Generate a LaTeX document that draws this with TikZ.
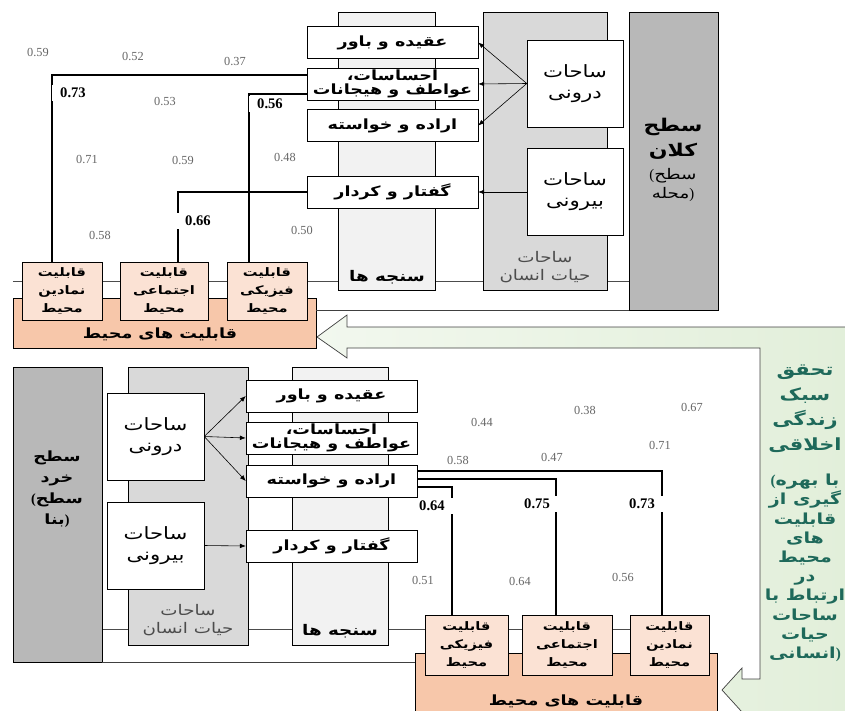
\documentclass[tikz,border=0pt]{standalone}
\usepackage{fontspec}
\setmainfont{Liberation Serif}
\newfontfamily\arabicfont[Script=Arabic,FakeStretch=1.25]{DejaVu Sans}
\TeXXeTstate=1
\newcommand{\fa}[1]{{\arabicfont\beginR #1\endR}}
\usetikzlibrary{arrows.meta,backgrounds}

\definecolor{darkcol}{gray}{0.72}
\definecolor{lightcol}{gray}{0.85}
\definecolor{palecol}{gray}{0.95}
\definecolor{capfill}{RGB}{251,226,212}
\definecolor{holdfill}{RGB}{247,199,170}
\definecolor{greenfill}{RGB}{226,239,218}
\definecolor{greentext}{RGB}{30,105,90}

\tikzset{
  measbox/.style={draw,fill=white,inner sep=0pt,minimum width=5.13cm,minimum height=0.96cm,
    align=center,font=\fontsize{12}{13}\selectfont\bfseries},
  sahatbox/.style={draw,fill=white,inner sep=0pt,minimum width=2.88cm,minimum height=2.61cm,
    align=center,font=\fontsize{14.5}{18}\selectfont},
  capbox/.style={draw,fill=capfill,inner sep=0pt,minimum height=1.74cm,
    align=center,font=\fontsize{10}{15}\selectfont\bfseries},
  capholder/.style={draw,fill=holdfill,inner sep=0pt},
  darkbar/.style={draw,fill=darkcol,inner sep=0pt},
  lightbar/.style={draw,fill=lightcol,inner sep=0pt},
  palebar/.style={draw,fill=palecol,inner sep=0pt},
  coltext/.style={align=center,text=black!70,font=\fontsize{12.5}{16}\selectfont},
  val/.style={text=black!60,font=\fontsize{10.5}{12}\selectfont},
  valb/.style={fill=white,inner xsep=7pt,inner ysep=3pt,font=\fontsize{12.5}{13}\selectfont\bfseries},
  link/.style={line width=1.4pt},
  arr/.style={-{Latex[length=5pt,width=4pt]},line width=0.5pt},
  spine/.style={line width=0.5pt,black!70},
  frame/.style={line width=0.6pt,black!75},
  greentxt/.style={align=center,text=greentext}
}

\begin{document}
\begin{tikzpicture}[x=0.03cm,y=-0.03cm]
  \useasboundingbox (0,0) rectangle (845,711);
  % green band with its two arrow heads
  \draw[frame,left color=greenfill!45!white,right color=greenfill]
    (317,337) -- (347,315) -- (347,327) -- (848,327) -- (848,714) -- (742,714)
    -- (742,712) -- (722,690) -- (742,668) -- (742,679) -- (760,679) -- (760,348)
    -- (347,348) -- (347,358) -- cycle;
  \node[greentxt,font=\fontsize{14.3}{21.3}\selectfont\bfseries] (goal1) at (805,409)
    {\fa{تحقق}\\\fa{سبک}\\\fa{زندگی}\\\fa{اخلاقی}};
  \node[greentxt,font=\fontsize{13}{16.4}\selectfont\bfseries] (goal2) at (805,568)
    {(\fa{با بهره}\\\fa{گیری از}\\\fa{قابلیت}\\\fa{های}\\\fa{محیط}\\\fa{در}\\\fa{ارتباط با}\\\fa{ساحات}\\\fa{حیات}\\\fa{انسانی})};

  % upper half: macro level
  \node[darkbar,minimum width=2.67cm,minimum height=8.94cm] (kalan) at (673.5,161) {};
  \node[lightbar,minimum width=3.72cm,minimum height=8.34cm] (hayat1) at (545,151) {};
  \node[palebar,minimum width=2.91cm,minimum height=8.34cm] (sanje1) at (386.5,151) {};
  \node[font=\fontsize{15}{21.3}\selectfont\bfseries,align=center] (kalantxt) at (673,139)
    {\fa{سطح}\\\fa{کلان}};
  \node[font=\fontsize{12.5}{15.5}\selectfont,align=center] (mahalletxt) at (673,185)
    {(\fa{سطح}\\\fa{محله})};
  \node[coltext] (hayat1txt) at (545,267) {\fa{ساحات}\\\fa{حیات انسان}};
  \node[coltext,text=black,font=\fontsize{12.5}{16}\selectfont\bfseries] (sanje1txt) at (387,277) {\fa{سنجه ها}};
  \node[sahatbox] (darooni1) at (575,83.5) {\fa{ساحات}\\\fa{درونی}};
  \node[sahatbox] (birooni1) at (575,192) {\fa{ساحات}\\\fa{بیرونی}};
  \node[measbox] (aghide1) at (392.5,42.5) {\fa{عقیده و باور}};
  \node[measbox,font=\fontsize{12}{12.5}\selectfont\bfseries] (ehsas1) at (392.5,84)
    {\fa{احساسات،}\\\fa{عواطف و هیجانات}};
  \node[measbox] (erade1) at (392.5,125.5) {\fa{اراده و خواسته}};
  \node[measbox] (goftar1) at (392.5,192) {\fa{گفتار و کردار}};
  \node[capholder,minimum width=9.09cm,minimum height=1.5cm] (mohit1) at (164.5,323) {};
  \node[font=\fontsize{12}{14}\selectfont\bfseries] (mohit1txt) at (160,334) {\fa{قابلیت های محیط}};
  \node[capbox,minimum width=2.4cm] (namadin1) at (62,291) {\fa{قابلیت}\\\fa{نمادین}\\\fa{محیط}};
  \node[capbox,minimum width=2.64cm] (ejtemai1) at (164,291) {\fa{قابلیت}\\\fa{اجتماعی}\\\fa{محیط}};
  \node[capbox,minimum width=2.4cm] (fiziki1) at (267,291) {\fa{قابلیت}\\\fa{فیزیکی}\\\fa{محیط}};

  \draw[arr] (darooni1.west) -- (aghide1.east);
  \draw[arr] (darooni1.west) -- (ehsas1.east);
  \draw[arr] (darooni1.west) -- (erade1.east);
  \draw[arr] (birooni1.west) -- (goftar1.east);
  \draw[link] (ehsas1.west |- 0,75) -| (namadin1.north -| 52,0);
  \draw[link] (ehsas1.west |- 0,94) -| (fiziki1.north -| 249,0);
  \draw[link] (goftar1.west) -| (ejtemai1.north -| 178,0);
  \draw[frame] (mohit1.east |- kalan.south) -- (kalan.south west);

  \node[val] (u1) at (38,53) {0.59};
  \node[val] (u2) at (133,57) {0.52};
  \node[val] (u3) at (235,62) {0.37};
  \node[valb] (u4) at (73,93) {0.73};
  \node[val] (u5) at (165,101) {0.53};
  \node[valb] (u6) at (270,104) {0.56};
  \node[val] (u7) at (87,159) {0.71};
  \node[val] (u8) at (183,160) {0.59};
  \node[val] (u9) at (285,157) {0.48};
  \node[valb] (u10) at (198,221) {0.66};
  \node[val] (u11) at (100,235) {0.58};
  \node[val] (u12) at (302,230) {0.50};

  % lower half: micro level
  \node[darkbar,minimum width=2.67cm,minimum height=8.85cm] (khord) at (57.5,514.5) {};
  \node[lightbar,minimum width=3.6cm,minimum height=8.34cm] (hayat2) at (188,506) {};
  \node[palebar,minimum width=2.88cm,minimum height=8.34cm] (sanje2) at (340,506) {};
  \node[font=\fontsize{12}{18}\selectfont\bfseries,align=center] (khordtxt) at (57,489)
    {\fa{سطح}\\\fa{خرد}\\(\fa{سطح}\\\fa{بنا})};
  \node[coltext] (hayat2txt) at (188,620) {\fa{ساحات}\\\fa{حیات انسان}};
  \node[coltext,text=black,font=\fontsize{12.5}{16}\selectfont\bfseries] (sanje2txt) at (340,631) {\fa{سنجه ها}};
  \node[sahatbox,minimum width=2.91cm] (darooni2) at (155.5,436.5) {\fa{ساحات}\\\fa{درونی}};
  \node[sahatbox,minimum width=2.91cm] (birooni2) at (155.5,545.5) {\fa{ساحات}\\\fa{بیرونی}};
  \node[measbox] (aghide2) at (331.5,396) {\fa{عقیده و باور}};
  \node[measbox,font=\fontsize{12}{12.5}\selectfont\bfseries] (ehsas2) at (331.5,438)
    {\fa{احساسات،}\\\fa{عواطف و هیجانات}};
  \node[measbox] (erade2) at (331.5,481) {\fa{اراده و خواسته}};
  \node[measbox] (goftar2) at (331.5,546) {\fa{گفتار و کردار}};
  \node[capholder,minimum width=9.06cm,minimum height=1.89cm] (mohit2) at (566,684.5) {};
  \node[font=\fontsize{12}{14}\selectfont\bfseries] (mohit2txt) at (566,701) {\fa{قابلیت های محیط}};
  \node[capbox,minimum width=2.49cm,minimum height=1.8cm] (fiziki2) at (466.5,645) {\fa{قابلیت}\\\fa{فیزیکی}\\\fa{محیط}};
  \node[capbox,minimum width=2.7cm,minimum height=1.8cm] (ejtemai2) at (567,645) {\fa{قابلیت}\\\fa{اجتماعی}\\\fa{محیط}};
  \node[capbox,minimum width=2.37cm,minimum height=1.8cm] (namadin2) at (669.5,645) {\fa{قابلیت}\\\fa{نمادین}\\\fa{محیط}};

  \draw[arr] (darooni2.east) -- (aghide2.west);
  \draw[arr] (darooni2.east) -- (ehsas2.west);
  \draw[arr] (darooni2.east) -- (erade2.west);
  \draw[arr] (birooni2.east) -- (goftar2.west);
  \draw[link] (erade2.east |- 0,471) -| (namadin2.north -| 662,0);
  \draw[link] (erade2.east |- 0,479) -| (ejtemai2.north -| 556,0);
  \draw[link] (erade2.east |- 0,487) -| (fiziki2.north -| 452,0);
  \draw[frame] (khord.south east) -- (mohit2.west |- khord.south);

  \node[val] (w1) at (482,422) {0.44};
  \node[val] (w2) at (585,410) {0.38};
  \node[val] (w3) at (692,407) {0.67};
  \node[val] (w4) at (660,445) {0.71};
  \node[val] (w5) at (552,457) {0.47};
  \node[val] (w6) at (458,460) {0.58};
  \node[valb] (w7) at (432,506) {0.64};
  \node[valb] (w8) at (537,504) {0.75};
  \node[valb] (w9) at (642,504) {0.73};
  \node[val] (w10) at (423,580) {0.51};
  \node[val] (w11) at (520,581) {0.64};
  \node[val] (w12) at (623,577) {0.56};

  % thin spine lines behind the columns
  \begin{pgfonlayer}{background}
    \draw[spine] (mohit1.west |- 0,281) -- (kalan.west |- 0,281);
    \draw[spine] (khord.east |- 0,629) -- (namadin2.east |- 0,629);
  \end{pgfonlayer}
\end{tikzpicture}
\end{document}
